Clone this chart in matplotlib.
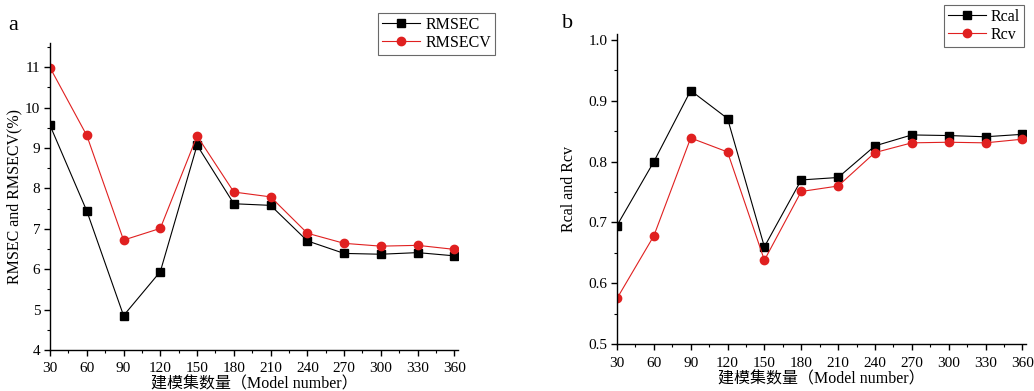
import numpy as np
import matplotlib
matplotlib.use('Agg')
import matplotlib.pyplot as plt
from matplotlib.ticker import MultipleLocator

plt.rcParams['font.family'] = ['Liberation Serif', 'Noto Sans CJK SC']
plt.rcParams['font.size'] = 11

model_number = [30, 60, 90, 120, 150, 180, 210, 240, 270, 300, 330, 360]

rmsec = [9.56, 7.44, 4.85, 5.94, 9.07, 7.62, 7.58, 6.70, 6.39, 6.37, 6.41, 6.33]
rmsecv = [10.99, 9.31, 6.72, 7.01, 9.30, 7.91, 7.79, 6.89, 6.64, 6.57, 6.59, 6.49]

rcal = [0.695, 0.800, 0.917, 0.871, 0.660, 0.770, 0.774, 0.826, 0.844, 0.843, 0.841, 0.845]
rcv = [0.575, 0.678, 0.839, 0.816, 0.638, 0.751, 0.760, 0.815, 0.831, 0.832, 0.831, 0.837]

xlabel = '建模集数量（Model number）'

fig = plt.figure(figsize=(10.34, 3.91), dpi=100)
ax1 = fig.add_axes([0.0484, 0.105, 0.3946, 0.785])
ax2 = fig.add_axes([0.5967, 0.120, 0.3956, 0.793])


def style_axes(ax):
    for s in ['top', 'right']:
        ax.spines[s].set_visible(False)
    for s in ['left', 'bottom']:
        ax.spines[s].set_linewidth(1.0)
    ax.xaxis.set_major_locator(MultipleLocator(30))
    ax.xaxis.set_minor_locator(MultipleLocator(15))
    ax.tick_params(which='major', direction='out', length=4, width=1, pad=3)
    ax.tick_params(which='minor', direction='out', length=2.5, width=0.8)
    ax.tick_params(axis='x', which='major', pad=5)
    ax.set_xlabel(xlabel, fontsize=11.5, labelpad=1)


def add_legend(ax, anchor, loc):
    leg = ax.legend(loc=loc, bbox_to_anchor=anchor, bbox_transform=fig.transFigure,
                    fontsize=11.5, frameon=True, fancybox=False, edgecolor='#444444',
                    borderpad=0.25, borderaxespad=0, handlelength=2.4,
                    handletextpad=0.3, labelspacing=0.1)
    leg.get_frame().set_linewidth(0.8)
    return leg


ax1.plot(model_number, rmsec, '-s', color='black', lw=0.8, ms=5.5, label='RMSEC')
ax1.plot(model_number, rmsecv, '-o', color='#e02020', lw=0.8, ms=6,
         mec='#e02020', mfc='#e02020', label='RMSECV')
ax1.set_xlim(30, 363)
ax1.set_ylim(4, 11.6)
ax1.yaxis.set_major_locator(MultipleLocator(1))
ax1.yaxis.set_minor_locator(MultipleLocator(0.5))
style_axes(ax1)
ax1.set_ylabel('RMSEC and RMSECV(%)', fontsize=11.5, labelpad=2)
add_legend(ax1, (378 / 1034, 1 - 13 / 391), 'upper left')

ax2.plot(model_number, rcal, '-s', color='black', lw=0.8, ms=5.5, label='Rcal')
ax2.plot(model_number, rcv, '-o', color='#e02020', lw=0.8, ms=6,
         mec='#e02020', mfc='#e02020', label='Rcv')
ax2.set_xlim(30, 363)
ax2.set_ylim(0.5, 1.01)
ax2.yaxis.set_major_locator(MultipleLocator(0.1))
ax2.yaxis.set_minor_locator(MultipleLocator(0.05))
style_axes(ax2)
ax2.set_ylabel('Rcal and Rcv', fontsize=11.5, labelpad=8)
add_legend(ax2, (1024 / 1034, 1 - 5 / 391), 'upper right')

fig.text(8 / 1034, 1 - 30 / 391, 'a', fontsize=16)
fig.text(562 / 1034, 1 - 28 / 391, 'b', fontsize=16)

fig.savefig('out.png', dpi=100)
